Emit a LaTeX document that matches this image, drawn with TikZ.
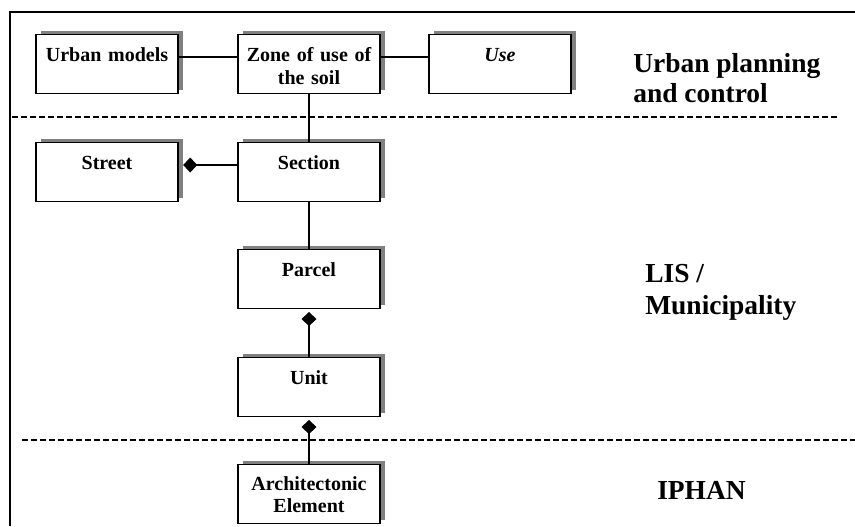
\documentclass[tikz,border=0pt]{standalone}
\usepackage{fontspec}
\setmainfont{Liberation Serif}
\usetikzlibrary{shadows,arrows.meta}
\tikzset{
  umlbox/.style={draw=black, line width=1pt, fill=white, rectangle,
    inner xsep=0pt, inner ysep=0pt,
    text width=106.5pt, align=center,
    text height=20pt, text depth=24.25pt,
    font=\bfseries\fontsize{15}{17.7}\selectfont,
    general shadow={fill=black!50, shadow xshift=3.75pt, shadow yshift=3pt},
    anchor=north},
  link/.style={line width=0.8pt, draw=black},
  comp/.style={link, -{Diamond[length=10.5pt,width=11.25pt]}},
  sep/.style={line width=0.9pt, dash pattern=on 4.5pt off 2.25pt},
  layer/.style={inner sep=0pt, align=left, font=\bfseries\fontsize{20.6}{22.5}\selectfont},
}
\begin{document}
\begin{tikzpicture}[x=0.75pt,y=-0.75pt]
\useasboundingbox (0,0) rectangle (855,526);
% frame
\coordinate (fA) at (855,12);
\coordinate (fB) at (10,12);
\coordinate (fC) at (10,526);
\draw[line width=1pt] (fA) -- (fB) -- (fC);
% separators
\coordinate (s1a) at (12,117);
\coordinate (s1b) at (840,117);
\coordinate (s2a) at (22,440);
\coordinate (s2b) at (855,440);
\draw[sep] (s1a) -- (s1b);
\draw[sep] (s2a) -- (s2b);
% boxes
\node[umlbox] (urban) at (107,34) {Urban models};
\node[umlbox] (zone) at (309,34) {Zone of use of\\the soil};
\node[umlbox] (use) at (500,34) {\itshape Use};
\node[umlbox] (street) at (107,142) {Street};
\node[umlbox] (section) at (309,142) {Section};
\node[umlbox] (parcel) at (309,249) {Parcel};
\node[umlbox] (unit) at (309,357) {Unit};
\node[umlbox, font=\bfseries\fontsize{15}{16.5}\selectfont, text height=19.5pt, text depth=24.75pt] (arch) at (309,464) {Architectonic\\Element};
% connectors
\draw[link] ([yshift=-17.25pt]urban.north east) -- ([yshift=-17.25pt]zone.north west);
\draw[link] ([yshift=-17.25pt]zone.north east) -- ([yshift=-17.25pt]use.north west);
\draw[link] (zone.south) -- (section.north);
\draw[comp, shorten >=3.4pt] ([yshift=-17.25pt]section.north west) -- ([yshift=-17.25pt]street.north east);
\draw[link] (section.south) -- (parcel.south |- section.south) -- (parcel.north);
\draw[comp, shorten >=2pt] (unit.north) -- (parcel.south);
\draw[comp, shorten >=2pt] (arch.north) -- (unit.south);
% layer labels
\node[layer, anchor=north west] (lplan) at (633,53.5) {Urban planning\\and control};
\node[layer, anchor=north west, font=\bfseries\fontsize{20.6}{24}\selectfont] (llis) at (645,264.5) {LIS /\\Municipality};
\node[layer, anchor=base west] (liphan) at (657,499) {IPHAN};
\end{tikzpicture}
\end{document}
